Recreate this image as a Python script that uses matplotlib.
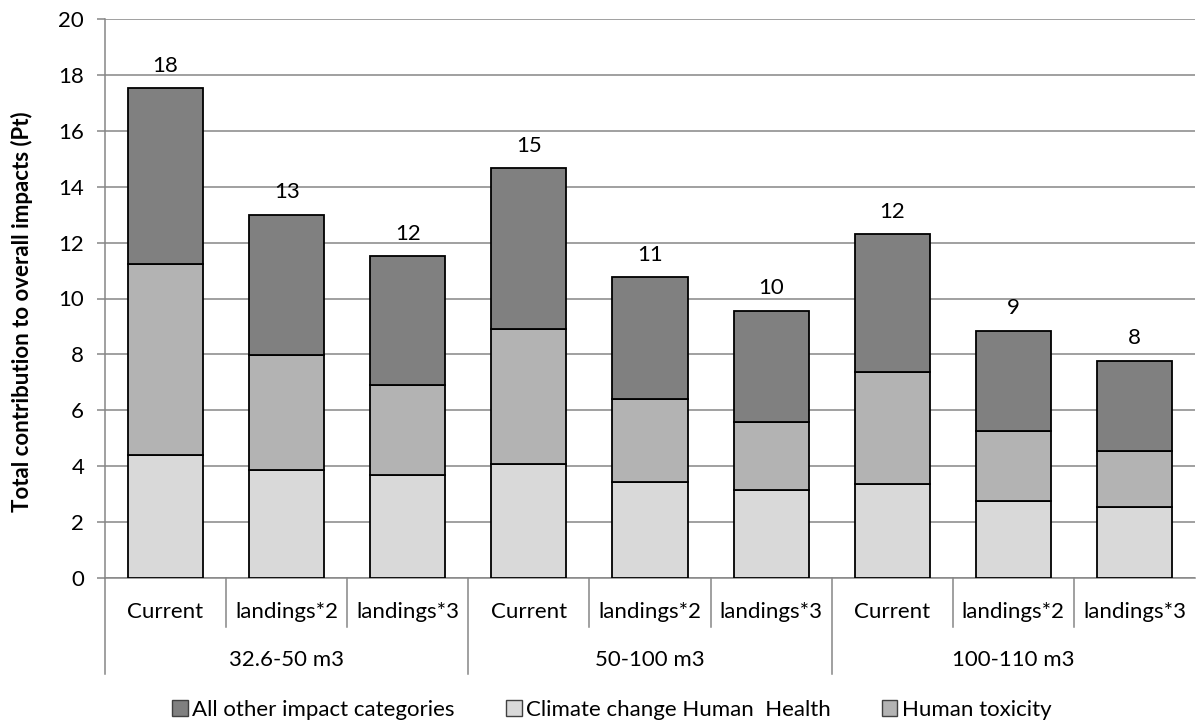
import numpy as np
import matplotlib
matplotlib.use('Agg')
import matplotlib.pyplot as plt
from matplotlib.patches import Patch
from matplotlib.transforms import blended_transform_factory

groups = ['32.6-50 m3', '50-100 m3', '100-110 m3']
scenarios = ['Current', 'landings*2', 'landings*3']
climate = [4.41, 3.87, 3.67, 4.08, 3.42, 3.15, 3.35, 2.75, 2.55]
toxicity = [6.81, 4.12, 3.23, 4.82, 2.97, 2.44, 4.03, 2.52, 1.99]
other = [6.30, 5.01, 4.62, 5.76, 4.37, 3.97, 4.92, 3.57, 3.24]
yticks = [0, 2, 4, 6, 8, 10, 12, 14, 16, 18, 20]
series_names = ['All other impact categories', 'Climate change Human  Health', 'Human toxicity']

FONT = ['Lato', 'DejaVu Sans']
plt.rcParams['font.family'] = FONT
FS = 16

c_other, c_clim, c_tox = '#808080', '#d9d9d9', '#b3b3b3'
grid_c = '#868686'

fig = plt.figure(figsize=(12.03, 7.24), dpi=100)
ax = fig.add_axes([105/1203, 1-578/724, 1090/1203, 559/724])

n = len(climate)
x = np.arange(n)
clim = np.array(climate)
tox = np.array(toxicity)
oth = np.array(other)
w = 0.62
kw = dict(width=w, edgecolor='black', linewidth=1.3, zorder=3)
ax.bar(x, clim, color=c_clim, **kw)
ax.bar(x, tox, bottom=clim, color=c_tox, **kw)
ax.bar(x, oth, bottom=clim + tox, color=c_other, **kw)

totals = clim + tox + oth
for xi, t in zip(x, totals):
    ax.annotate(f'{int(np.floor(t + 0.5))}', (xi, t), xytext=(0, 9), textcoords='offset points',
                ha='center', va='bottom', fontsize=FS, color='black')

ax.set_xlim(-0.5, n - 0.5)
ax.set_ylim(0, 20)
ax.set_yticks(yticks)
ax.set_yticklabels([str(v) for v in yticks], fontsize=FS)
ax.tick_params(axis='y', length=6, width=1.1, color=grid_c, pad=9)
ax.set_xticks([])
ax.yaxis.grid(True, color=grid_c, linewidth=1.1, zorder=0)
ax.set_axisbelow(True)
for s in ['top', 'right']:
    ax.spines[s].set_visible(False)
for s in ['left', 'bottom']:
    ax.spines[s].set_color(grid_c)
    ax.spines[s].set_linewidth(1.1)

trans = blended_transform_factory(ax.transData, ax.transAxes)
ax_h = 559.0
labels = [s for g in groups for s in scenarios]
for xi, lab in zip(x, labels):
    ax.text(xi, -34/ax_h, lab, transform=trans, ha='center', va='center', fontsize=FS)
for gi, g in enumerate(groups):
    ax.text(gi * 3 + 1, -82/ax_h, g, transform=trans, ha='center', va='center', fontsize=FS)
for b in np.arange(n) - 0.5:
    if b % 3 == 2.5 or b == -0.5:
        y1 = -96/ax_h
    else:
        y1 = -49/ax_h
    ax.plot([b, b], [0, y1], transform=trans, color=grid_c, lw=1.1, clip_on=False)

fig.text(22/1203, 1-312/724, 'Total contribution to overall impacts (Pt)', rotation=90,
         ha='center', va='center', fontsize=FS, fontweight='bold')

handles = [Patch(facecolor=c_other, edgecolor='#404040', linewidth=1.0),
           Patch(facecolor=c_clim, edgecolor='#404040', linewidth=1.0),
           Patch(facecolor=c_tox, edgecolor='#404040', linewidth=1.0)]
fig.legend(handles, series_names, loc='center', bbox_to_anchor=(612/1203, 1-710/724), ncol=3,
           frameon=False, fontsize=FS, handlelength=0.7, handleheight=0.7, handletextpad=0.2,
           columnspacing=2.3)

fig.savefig('out.png', dpi=100)
